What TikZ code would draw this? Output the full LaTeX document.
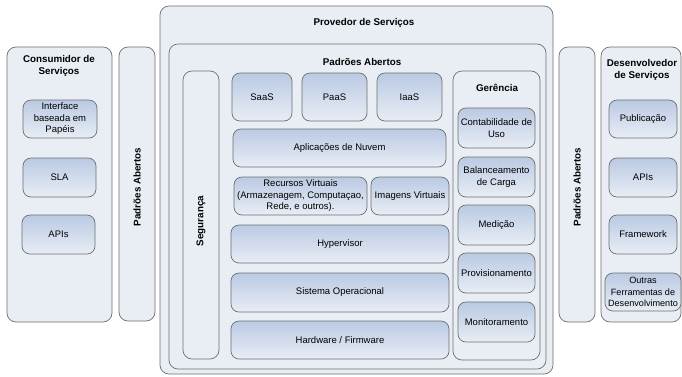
\documentclass[tikz,border=0pt]{standalone}
\usepackage{fontspec}
\setmainfont{Liberation Sans}
\begin{document}
\begin{tikzpicture}[x=1pt,y=-1pt]
\definecolor{panelbg}{HTML}{E9EEF5}
\definecolor{edge}{HTML}{6E6E6E}
\definecolor{shadetop}{HTML}{BACAE3}
\definecolor{shadebot}{HTML}{E8EDF5}
\tikzset{
  panel/.style={draw=edge, fill=panelbg, line width=0.7pt, rounded corners=9pt, inner sep=0pt},
  block/.style={draw=edge, top color=shadetop, bottom color=shadebot, line width=0.7pt,
    rounded corners=8pt, inner sep=1pt, align=center, font=\fontsize{9.5}{11.5}\selectfont},
  title/.style={align=center, font=\fontsize{9.8}{11.5}\selectfont\bfseries},
  vtitle/.style={title, rotate=90},
}
% box from its corner coordinates: name, x1, y1, x2, y2, style, text
\newcommand\bx[7]{\node[#6, minimum width={(#4-#2)*1pt}, minimum height={(#5-#3)*1pt}] (#1) at ({(#2+#4)/2},{(#3+#5)/2}) {#7};}

\fill[white] (0,0) rectangle (682,376);
\useasboundingbox (0,0) rectangle (682,376);

% consumer side
\bx{cons}{7}{47}{112}{322}{panel}{}
\node[title] (consT) at (59,66) {Consumidor de\\Serviços};
\bx{iface}{23}{100}{97}{138}{block}{Interface\\baseada em\\Papéis}
\bx{sla}{23}{158}{96}{197}{block}{SLA}
\bx{apiC}{22}{215}{95}{254}{block}{APIs}

\bx{padL}{119}{47}{155}{321}{panel}{}
\node[vtitle] (padLT) at (137,187) {Padrões Abertos};

% provider
\bx{prov}{160}{6}{553}{374}{panel}{}
\node[title] (provT) at (364,23) {Provedor de Serviços};
\bx{pad}{169}{44}{546}{369}{panel}{}
\node[title] (padT) at (362,62) {Padrões Abertos};

\bx{seg}{183}{71}{219}{359}{panel}{}
\node[vtitle] (segT) at (201,221) {Segurança};

\bx{saas}{232}{73}{292}{121}{block}{SaaS}
\bx{paas}{302}{73}{367}{121}{block}{PaaS}
\bx{iaas}{377}{73}{442}{121}{block}{IaaS}
\bx{apps}{233}{129}{446}{167}{block}{Aplicações de Nuvem}
\bx{recv}{234}{177}{367}{215}{block}{Recursos Virtuais\\(Armazenagem, Computaçao,\\Rede, e outros).}
\bx{imgv}{371}{177}{449}{215}{block}{Imagens Virtuais}
\bx{hyp}{231}{225}{449}{263}{block}{Hypervisor}
\bx{os}{231}{273}{449}{312}{block}{Sistema Operacional}
\bx{hw}{231}{321}{449}{359}{block}{Hardware / Firmware}

\bx{ger}{453}{71}{540}{360}{panel}{}
\node[title] (gerT) at (497,88) {Gerência};
\bx{cont}{458}{108}{535}{148}{block}{Contabilidade de\\Uso}
\bx{bal}{458}{157}{535}{197}{block}{Balanceamento\\de Carga}
\bx{med}{458}{205}{535}{245}{block}{Medição}
\bx{provis}{458}{253}{535}{293}{block}{Provisionamento}
\bx{mon}{458}{302}{535}{342}{block}{Monitoramento}

% developer side
\bx{padR}{559}{47}{595}{322}{panel}{}
\node[vtitle] (padRT) at (577,187) {Padrões Abertos};

\bx{dev}{601}{47}{681}{322}{panel}{}
\node[title] (devT) at (642,70) {Desenvolvedor\\de Serviços};
\bx{pub}{609}{100}{677}{138}{block}{Publicação}
\bx{apiD}{609}{158}{677}{197}{block}{APIs}
\bx{fw}{609}{215}{677}{254}{block}{Framework}
\bx{tools}{605}{273}{681}{311}{block, inner sep=0pt, font=\fontsize{9.1}{11.2}\selectfont}{Outras\\Ferramentas de\\Desenvolvimento}
\end{tikzpicture}
\end{document}
